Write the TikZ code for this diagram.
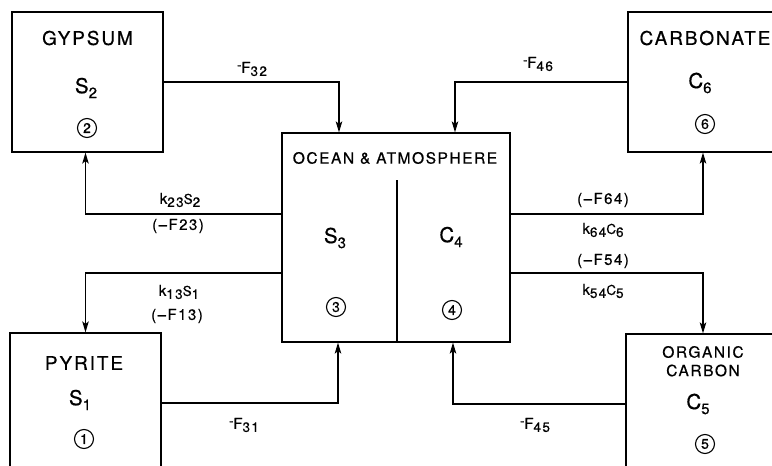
\documentclass[tikz,border=0pt]{standalone}
\usepackage{fontspec}
\setmainfont[LetterSpace=10,FakeBold=0.6]{TeX Gyre Heros}
\newfontfamily\plainhv[FakeBold=0.6]{TeX Gyre Heros}
\usetikzlibrary{arrows.meta}
\newcommand\sbx[1]{\raisebox{-3pt}{\fontsize{13.5}{13.5}\selectfont #1}}
\newcommand\smx[1]{{\fontsize{13.5}{13.5}\selectfont #1}}
\newcommand\bsb[1]{\raisebox{-5pt}{\fontsize{15}{15}\selectfont #1}}
\newcommand\rdash{\raisebox{3.5pt}{\fontsize{13}{13}\selectfont -}}
\begin{document}
\begin{tikzpicture}[x=1pt,y=-1pt,
 box/.style={draw,line width=1.2pt,inner sep=0},
 arr/.style={line width=1.2pt,-{Stealth[length=11pt,width=6.5pt,inset=2.5pt]}},
 title/.style={font=\fontsize{19}{19}\selectfont,inner sep=0},
 sym/.style={font=\fontsize{20.5}{20.5}\selectfont,inner sep=0},
 num/.style={draw,circle,line width=1.1pt,minimum size=19pt,inner sep=0,font=\plainhv\fontsize{14}{14}\selectfont},
 lab/.style={font=\fontsize{15}{15}\selectfont,inner sep=0},
 sub/.style={font=\fontsize{15.5}{15.5}\selectfont,inner sep=0}]
\useasboundingbox (0,0) rectangle (772,466);
\clip (0,0) rectangle (772,466);
% boxes
\node[box,minimum width=151pt,minimum height=140pt] (gyp) at (87.5,82) {};
\node[box,minimum width=150pt,minimum height=140pt] (carb) at (703,82) {};
\node[box,minimum width=151pt,minimum height=140pt] (pyr) at (85.5,403) {};
\node[box,minimum width=154pt,minimum height=140pt] (org) at (703,404) {};
\node[box,minimum width=228pt,minimum height=209pt] (ocean) at (396,237.5) {};
\coordinate (dtop) at (397,180);
\draw[line width=1.2pt] (dtop) -- (dtop |- ocean.south);
% box texts
\node[title] (tgyp) at (87.5,38) {GYPSUM};
\node[sym] (s2) at (86,88) {S\bsb{2}};
\node[num] (n2) at (87,128) {2};
\node[title] (tcarb) at (705,38) {CARBONATE};
\node[sym] (c6) at (700,83) {C\bsb{6}};
\node[num] (n6) at (705,124) {6};
\node[title] (tpyr) at (84,363) {PYRITE};
\node[sym] (s1) at (80,400) {S\bsb{1}};
\node[num] (n1) at (84,439) {1};
\node[sub] (torg) at (703,352) {ORGANIC};
\node[sub] (tcbn) at (703,370.5) {CARBON};
\node[sym] (c5) at (698,404) {C\bsb{5}};
\node[num] (n5) at (705,444) {5};
\node[sub] (toc) at (395,158) {OCEAN \& ATMOSPHERE};
\node[sym] (s3) at (335,238) {S\bsb{3}};
\node[num] (n3) at (336,307) {3};
\node[sym] (c4) at (451,237) {C\bsb{4}};
\node[num] (n4) at (452,310) {4};
% labels
\node[lab] (l32) at (252,69) {\rdash F\sbx{32}};
\node[lab] (l23a) at (180,200) {k\sbx{23}\smx{S}\sbx{2}};
\node[lab] (l23b) at (178,226) {(–F23)};
\node[lab] (l13a) at (179,292) {k\sbx{13}\smx{S}\sbx{1}};
\node[lab] (l13b) at (177,316) {(–F13)};
\node[lab] (l31) at (244,425) {\rdash F\sbx{31}};
\node[lab] (l46) at (538,64) {\rdash F\sbx{46}};
\node[lab] (l64a) at (603,200) {(–F64)};
\node[lab] (l64b) at (603,230) {k\sbx{64}\smx{C}\sbx{6}};
\node[lab] (l54a) at (603,261) {(–F54)};
\node[lab] (l54b) at (603,291) {k\sbx{54}\smx{C}\sbx{5}};
\node[lab] (l45) at (535,425) {\rdash F\sbx{45}};
% connectors
\draw[arr] (gyp.east) -| ([xshift=-57pt]ocean.north);
\draw[arr] (carb.west) -| ([xshift=59pt]ocean.north);
\draw[arr] ([yshift=23.5pt]ocean.west) -| ([xshift=-2pt]gyp.south);
\draw[arr] ([yshift=-35.5pt]ocean.west) -| (pyr.north);
\draw[arr] (pyr.east) -| ([xshift=-58pt]ocean.south);
\draw[arr] ([yshift=23.5pt]ocean.east) -| (carb.south);
\draw[arr] ([yshift=-35.5pt]ocean.east) -| (org.north);
\draw[arr] (org.west) -| ([xshift=57pt]ocean.south);
\end{tikzpicture}
\end{document}
